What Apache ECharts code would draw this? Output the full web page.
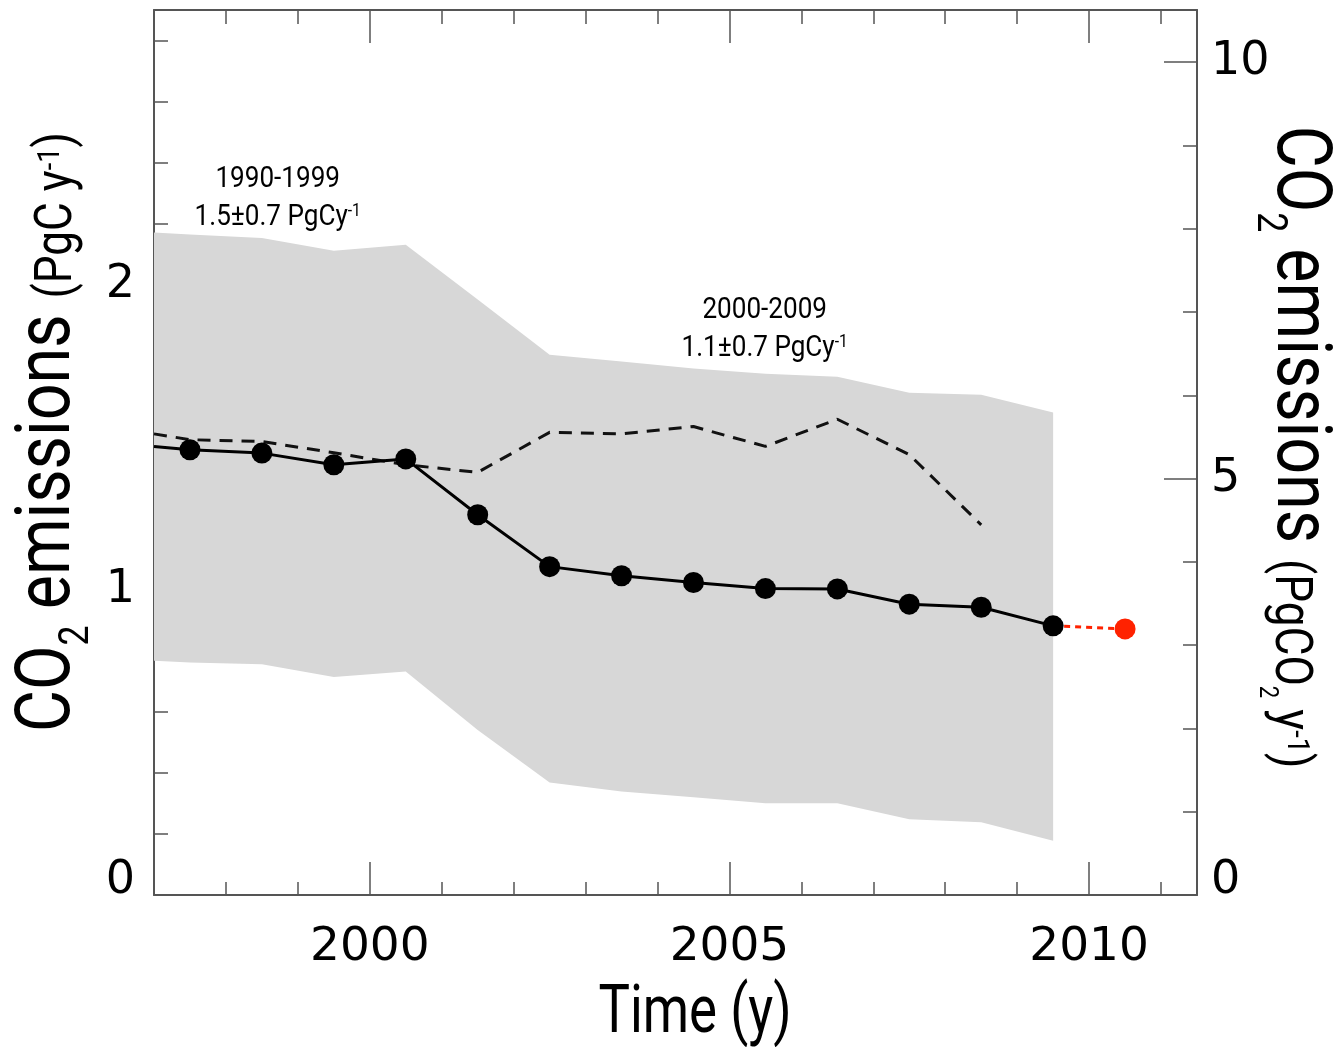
<!DOCTYPE html>
<html>
<head>
<meta charset="utf-8">
<script src="https://cdn.jsdelivr.net/npm/echarts@6/dist/echarts.min.js"></script>
<style>
  html, body { margin: 0; padding: 0; background: #fff; }
  #chart { width: 1335px; height: 1047px; }
</style>
</head>
<body>
<div id="chart"></div>
<script>
// land-use change CO2 emissions, PgC/y (mid-year values)
const bandYears = [1997, 1997.5, 1998.5, 1999.5, 2000.5, 2001.5, 2002.5, 2003.5, 2004.5, 2005.5, 2006.5, 2007.5, 2008.5, 2009.5];
const bandUpper = [2.171, 2.164, 2.153, 2.111, 2.131, 1.951, 1.770, 1.748, 1.725, 1.708, 1.698, 1.646, 1.639, 1.581];
const bandLower = [0.768, 0.762, 0.756, 0.714, 0.732, 0.541, 0.369, 0.339, 0.320, 0.301, 0.301, 0.248, 0.238, 0.178];

const emisYears = [1997, 1997.5, 1998.5, 1999.5, 2000.5, 2001.5, 2002.5, 2003.5, 2004.5, 2005.5, 2006.5, 2007.5, 2008.5, 2009.5];
const emisValues = [1.470, 1.459, 1.448, 1.410, 1.429, 1.246, 1.076, 1.046, 1.024, 1.004, 1.003, 0.953, 0.943, 0.882];

const dashYears = [1997, 1997.5, 1998.5, 1999.5, 2000.5, 2001.5, 2002.5, 2003.5, 2004.5, 2005.5, 2006.5, 2007.5, 2008.5];
const dashValues = [1.511, 1.492, 1.486, 1.449, 1.410, 1.385, 1.516, 1.511, 1.535, 1.470, 1.559, 1.443, 1.213];

const projYears = [2010.5];
const projValues = [0.872];

// axes
const yearTicks = [1998, 1999, 2000, 2001, 2002, 2003, 2004, 2005, 2006, 2007, 2008, 2009, 2010, 2011];
const yearLabels = [2000, 2005, 2010];
const leftTicks = [0.2, 0.4, 0.6, 0.8, 1, 1.2, 1.4, 1.6, 1.8, 2, 2.2, 2.4, 2.6, 2.8];
const leftLabels = [0, 1, 2];
const rightTicks = [1, 2, 3, 4, 5, 6, 7, 8, 9, 10];
const rightLabels = [0, 5, 10];
const rightMajor = [5, 10];
const C_TO_CO2 = 3.664;
const yMax = 2.9;

const axisColor = '#555';
const labelFont = 'DejaVu Sans';
const titleFont = 'Roboto';

function xAxisDef(position, ticks, len, withLine, labels) {
  return {
    type: 'value', position: position, min: 1997, max: 2011.5,
    axisLine: { show: withLine, onZero: false, lineStyle: { color: axisColor, width: 2 } },
    axisTick: { show: true, inside: true, length: len, customValues: ticks, lineStyle: { color: axisColor, width: 1.5 } },
    axisLabel: labels ? {
      show: true, customValues: labels, margin: 29, fontSize: 47, fontFamily: labelFont, color: '#000',
      formatter: function (v) { return String(v); }
    } : { show: false },
    splitLine: { show: false }
  };
}

function yAxisDef(position, max, ticks, len, withLine, labels, margin) {
  return {
    type: 'value', position: position, min: 0, max: max,
    axisLine: { show: withLine, onZero: false, lineStyle: { color: axisColor, width: 2 } },
    axisTick: { show: true, inside: true, length: len, customValues: ticks, lineStyle: { color: axisColor, width: 1.5 } },
    axisLabel: labels ? {
      show: true, customValues: labels, margin: margin, fontSize: 46, fontFamily: labelFont, color: '#000',
      formatter: function (v) { return v === 0 ? '{z|0}' : String(v); },
      rich: { z: { fontSize: 46, fontFamily: labelFont, color: '#000', padding: [0, 0, 28, 0] } }
    } : { show: false },
    splitLine: { show: false }
  };
}

const chart = echarts.init(document.getElementById('chart'), null, { renderer: 'canvas' });

const option = {
  animation: false,
  backgroundColor: '#fff',
  grid: { left: 154, right: 138, top: 10, bottom: 152, containLabel: false, outerBoundsMode: 'none' },
  xAxis: [
    xAxisDef('bottom', yearTicks, 13, true, yearLabels),
    xAxisDef('bottom', yearLabels, 33, false, null),
    xAxisDef('top', yearTicks, 14, true, null),
    xAxisDef('top', yearLabels, 33, false, null)
  ],
  yAxis: [
    yAxisDef('left', yMax, leftTicks, 14, true, leftLabels, 19),
    yAxisDef('left', yMax, leftLabels, 33, false, null, 0),
    yAxisDef('right', yMax * C_TO_CO2, rightTicks, 14, true, rightLabels, 14),
    yAxisDef('right', yMax * C_TO_CO2, rightMajor, 33, false, null, 0)
  ],
  series: [
    {
      type: 'custom',
      silent: true,
      z: 1,
      data: [[bandYears[0], bandUpper[0]]],
      renderItem: function (params, api) {
        const pts = [];
        for (let i = 0; i < bandYears.length; i++) pts.push(api.coord([bandYears[i], bandUpper[i]]));
        for (let i = bandYears.length - 1; i >= 0; i--) pts.push(api.coord([bandYears[i], bandLower[i]]));
        return { type: 'polygon', shape: { points: pts }, style: { fill: '#d7d7d7', stroke: null } };
      }
    },
    {
      type: 'line',
      z: 3,
      symbol: 'none',
      data: dashYears.map((x, i) => [x, dashValues[i]]),
      lineStyle: { color: '#111', width: 3, type: [13, 9] }
    },
    {
      type: 'line',
      z: 4,
      data: [[emisYears[emisYears.length - 1], emisValues[emisValues.length - 1]], [projYears[0], projValues[0]]].map((v, i) =>
        i === 0 ? { value: v, symbol: 'none' } : { value: v }),
      symbol: 'circle',
      symbolSize: 21,
      itemStyle: { color: '#ff2200' },
      lineStyle: { color: '#ff2200', width: 3, type: [6, 5] }
    },
    {
      type: 'line',
      z: 5,
      symbol: 'circle',
      symbolSize: 21,
      data: emisYears.map((x, i) => i === 0 ? { value: [x, emisValues[i]], symbol: 'none' } : [x, emisValues[i]]),
      itemStyle: { color: '#000' },
      lineStyle: { color: '#000', width: 3 }
    }
  ]
};

chart.setOption(option);

// annotation anchors in data coordinates
const notes = [
  { at: [1998.72, 2.27], period: '1990-1999', text: '1.5±0.7 PgCy' },
  { at: [2005.49, 1.84], period: '2000-2009', text: '1.1±0.7 PgCy' }
];

// all tokens top-aligned; padding-top sets baseline / sub / superscript offsets
const richTitle = {
  big: { fontFamily: titleFont, fontSize: 76, verticalAlign: 'top', color: '#000' },
  sub: { fontFamily: titleFont, fontSize: 42, verticalAlign: 'top', padding: [45, 0, 0, 0], color: '#000' },
  mid: { fontFamily: titleFont, fontSize: 52, verticalAlign: 'top', padding: [20, 0, 0, 0], color: '#000' },
  msub: { fontFamily: titleFont, fontSize: 26, verticalAlign: 'top', padding: [55, 0, 0, 0], color: '#000' },
  sup: { fontFamily: titleFont, fontSize: 32, verticalAlign: 'top', padding: [23, 0, 0, 0], color: '#000' }
};

const graphics = [
  {
    type: 'text', x: 55, y: 432, rotation: Math.PI / 2, scaleX: 0.85,
    style: {
      text: '{big|CO}{sub|2}{big| emissions }{mid|(PgC y}{sup|-1}{mid|)}',
      rich: richTitle, align: 'center', verticalAlign: 'middle'
    }
  },
  {
    type: 'text', x: 1291, y: 447, rotation: -Math.PI / 2, scaleX: 0.85,
    style: {
      text: '{big|CO}{sub|2}{big| emissions }{mid|(PgCO}{msub|2}{mid| y}{sup|-1}{mid|)}',
      rich: richTitle, align: 'center', verticalAlign: 'middle'
    }
  },
  {
    type: 'text', x: 695, y: 1015, scaleX: 0.8,
    style: { text: 'Time (y)', fontFamily: titleFont, fontSize: 66, fill: '#000', align: 'center', verticalAlign: 'middle' }
  }
];

notes.forEach(function (n) {
  const p = chart.convertToPixel({ xAxisIndex: 0, yAxisIndex: 0 }, n.at);
  graphics.push({
    type: 'text', x: p[0], y: p[1], scaleX: 0.87, z: 10,
    style: {
      text: '{a|' + n.period + '}\n{a|' + n.text + '}{s|-1}',
      align: 'center', verticalAlign: 'middle',
      rich: {
        a: { fontFamily: titleFont, fontSize: 30, lineHeight: 38, verticalAlign: 'top', color: '#111' },
        s: { fontFamily: titleFont, fontSize: 18, lineHeight: 27, verticalAlign: 'top', color: '#111' }
      }
    }
  });
});

chart.setOption({ graphic: graphics });
</script>
</body>
</html>
